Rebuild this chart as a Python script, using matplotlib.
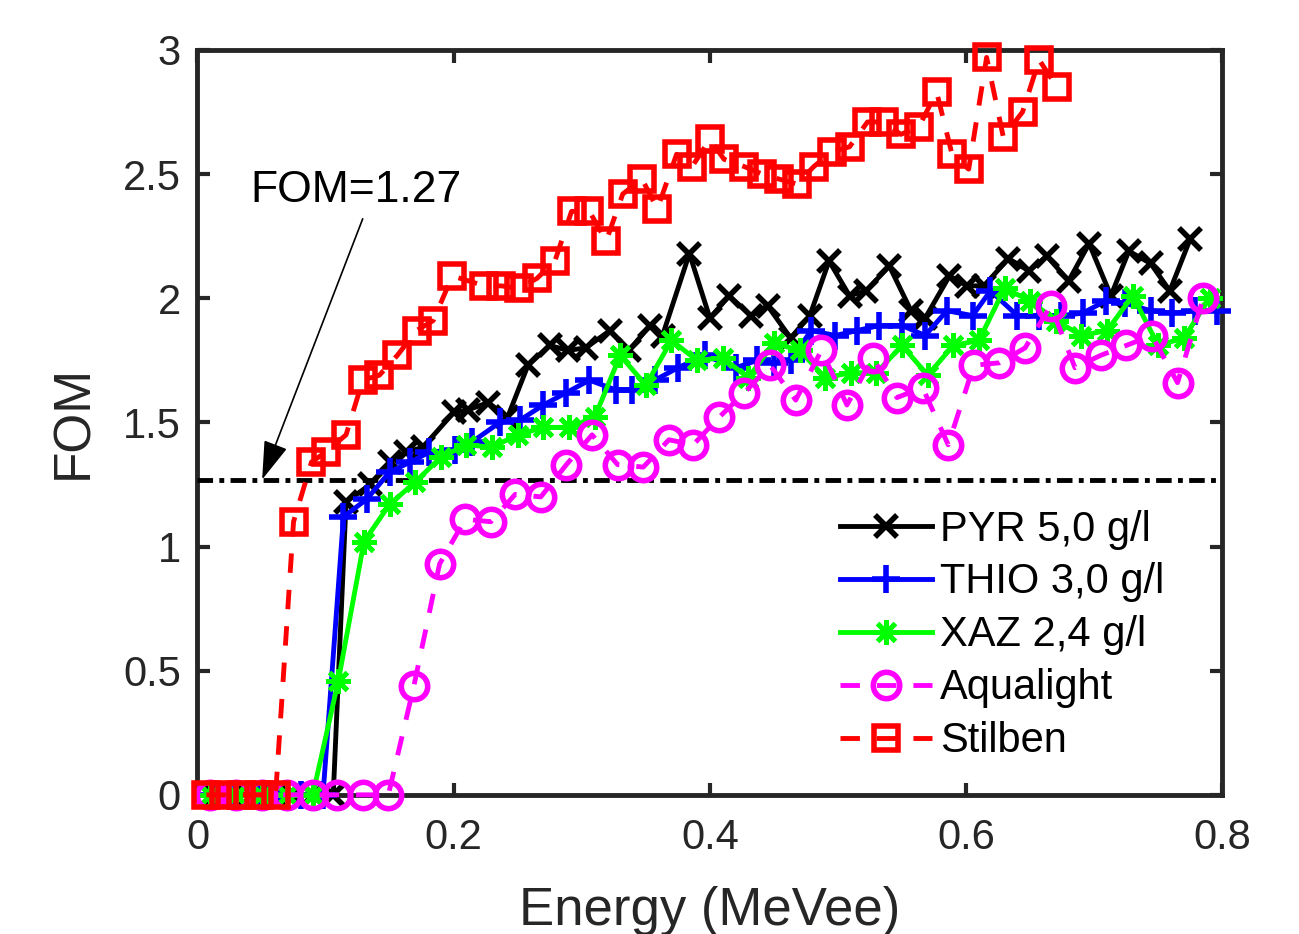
#!/usr/bin/env python3

"""
FOM versus energy for several scintillators (PSD quality comparison).
"""

import matplotlib
matplotlib.use("Agg")
import matplotlib.pyplot as plt

# Energy points (MeVee) and FOM values
pyr_energy = [0.012, 0.028, 0.043, 0.059, 0.075, 0.090, 0.106, 0.116, 0.135, 0.150,
              0.163, 0.176, 0.200, 0.211, 0.227, 0.242, 0.258, 0.275, 0.289, 0.303,
              0.322, 0.337, 0.353, 0.363, 0.384, 0.400, 0.415, 0.432, 0.445, 0.463,
              0.478, 0.493, 0.509, 0.522, 0.540, 0.557, 0.568, 0.587, 0.601, 0.614,
              0.633, 0.649, 0.663, 0.680, 0.696, 0.713, 0.727, 0.744, 0.759, 0.775]
pyr_fom = [0, 0, 0, 0, 0, 0, 0, 1.18, 1.25, 1.34,
           1.38, 1.40, 1.54, 1.55, 1.58, 1.52, 1.73, 1.81, 1.79, 1.80,
           1.87, 1.79, 1.89, 1.85, 2.18, 1.92, 2.01, 1.93, 1.97, 1.84,
           1.93, 2.15, 2.01, 2.03, 2.13, 1.95, 1.92, 2.09, 2.05, 2.05,
           2.16, 2.11, 2.17, 2.07, 2.22, 2.01, 2.19, 2.14, 2.03, 2.24]

thio_energy = [0.012, 0.029, 0.047, 0.064, 0.081, 0.098, 0.114, 0.132, 0.150, 0.166,
               0.181, 0.201, 0.214, 0.236, 0.252, 0.270, 0.288, 0.306, 0.327, 0.339,
               0.357, 0.375, 0.396, 0.420, 0.437, 0.450, 0.463, 0.479, 0.498, 0.515,
               0.532, 0.550, 0.568, 0.585, 0.605, 0.619, 0.640, 0.657, 0.674, 0.691,
               0.709, 0.724, 0.744, 0.761, 0.779, 0.796]
thio_fom = [0, 0, 0, 0, 0, 0, 1.12, 1.19, 1.30, 1.34,
            1.38, 1.39, 1.42, 1.50, 1.51, 1.57, 1.62, 1.67, 1.63, 1.63,
            1.67, 1.72, 1.77, 1.72, 1.75, 1.74, 1.75, 1.87, 1.85, 1.87,
            1.89, 1.89, 1.85, 1.95, 1.93, 2.03, 1.93, 1.93, 1.93, 1.94,
            1.99, 1.98, 1.95, 1.94, 1.95, 1.95]

xaz_energy = [0.01, 0.03, 0.05, 0.07, 0.09, 0.11, 0.13, 0.15, 0.17, 0.19,
              0.21, 0.23, 0.25, 0.27, 0.29, 0.31, 0.33, 0.35, 0.37, 0.39,
              0.41, 0.43, 0.45, 0.47, 0.49, 0.51, 0.53, 0.55, 0.57, 0.59,
              0.61, 0.63, 0.65, 0.67, 0.69, 0.71, 0.73, 0.75, 0.77, 0.79]
xaz_fom = [0, 0, 0, 0, 0, 0.46, 1.02, 1.17, 1.26, 1.36,
           1.41, 1.40, 1.45, 1.48, 1.48, 1.52, 1.77, 1.65, 1.83, 1.75,
           1.76, 1.68, 1.82, 1.79, 1.68, 1.70, 1.70, 1.81, 1.69, 1.81,
           1.83, 2.04, 1.99, 1.91, 1.85, 1.87, 2.01, 1.81, 1.84, 2.00]

aqua_energy = [0.010, 0.030, 0.050, 0.070, 0.090, 0.109, 0.129, 0.149, 0.169, 0.189,
               0.209, 0.229, 0.248, 0.268, 0.288, 0.308, 0.328, 0.348, 0.368, 0.387,
               0.407, 0.427, 0.447, 0.467, 0.487, 0.507, 0.527, 0.546, 0.566, 0.586,
               0.606, 0.626, 0.646, 0.666, 0.685, 0.705, 0.725, 0.745, 0.765, 0.785]
aqua_fom = [0, 0, 0, 0, 0, 0, 0, 0, 0.44, 0.93,
            1.11, 1.10, 1.21, 1.20, 1.33, 1.45, 1.33, 1.32, 1.43, 1.41,
            1.52, 1.62, 1.73, 1.59, 1.79, 1.57, 1.76, 1.60, 1.64, 1.41,
            1.73, 1.74, 1.80, 1.97, 1.72, 1.77, 1.81, 1.85, 1.66, 2.00]

stil_energy = [0.007, 0.021, 0.034, 0.048, 0.061, 0.075, 0.089, 0.100, 0.116, 0.129,
               0.142, 0.156, 0.171, 0.184, 0.199, 0.224, 0.237, 0.251, 0.265, 0.279,
               0.292, 0.306, 0.319, 0.332, 0.347, 0.359, 0.374, 0.386, 0.400, 0.411,
               0.427, 0.441, 0.454, 0.468, 0.481, 0.495, 0.509, 0.523, 0.536, 0.549,
               0.563, 0.577, 0.589, 0.602, 0.616, 0.629, 0.644, 0.657, 0.671]
stil_fom = [0, 0, 0, 0, 0, 1.10, 1.34, 1.38, 1.45, 1.67,
            1.69, 1.77, 1.87, 1.91, 2.09, 2.05, 2.05, 2.04, 2.08, 2.15,
            2.35, 2.35, 2.23, 2.42, 2.48, 2.36, 2.58, 2.53, 2.64, 2.56,
            2.53, 2.50, 2.48, 2.46, 2.53, 2.59, 2.61, 2.71, 2.71, 2.66,
            2.69, 2.83, 2.58, 2.52, 2.97, 2.65, 2.75, 2.96, 2.85]

FOM_LIMIT = 1.27
GRAY = '#262626'

plt.rcParams['font.family'] = ['Liberation Sans', 'DejaVu Sans']

fig = plt.figure(figsize=(12.99, 9.34), dpi=100)
ax = fig.add_axes([0.152, 0.149, 0.789, 0.7975])

# series in legend order (later ones are drawn on top)
common = dict(clip_on=False, zorder=3)
ax.plot(pyr_energy, pyr_fom, color='k', lw=3.5, marker='x', ms=16, mew=4,
        label='PYR 5,0 g/l', **common)
ax.plot(thio_energy, thio_fom, color='#0000ff', lw=3.5, marker='+', ms=20, mew=4,
        label='THIO 3,0 g/l', **common)
ax.plot(xaz_energy, xaz_fom, color='#00ff00', lw=3.5, marker=(8, 2, 0), ms=18, mew=3.5,
        label='XAZ 2,4 g/l', **common)
ax.plot(aqua_energy, aqua_fom, color='#ff00ff', lw=3.5, ls=(0, (4, 3.5)), marker='o',
        ms=19, mew=4, mfc='none', label='Aqualight', **common)
ax.plot(stil_energy, stil_fom, color='#ff0000', lw=3.5, ls=(0, (4, 3.5)), marker='s',
        ms=17, mew=4, mfc='none', label='Stilben', **common)

# FOM threshold line
ax.plot([0, 0.8], [FOM_LIMIT, FOM_LIMIT], color='k', lw=3.5,
        ls=(0, (3.2, 1.3, 1.0, 1.3)), zorder=2.6)

ax.text(0.124, 2.435, 'FOM=1.27', fontsize=32, ha='center', va='center', color='k')
ax.annotate('', xy=(0.0505, FOM_LIMIT), xytext=(0.129, 2.32),
            arrowprops=dict(arrowstyle='-|>,head_length=1.1,head_width=0.35',
                            lw=1.2, color='k', mutation_scale=22, shrinkA=0, shrinkB=0))

ax.set_xlim(0, 0.8)
ax.set_ylim(0, 3)
ax.set_xticks([0, 0.2, 0.4, 0.6, 0.8])
ax.set_xticklabels(['0', '0.2', '0.4', '0.6', '0.8'])
ax.set_yticks([0, 0.5, 1, 1.5, 2, 2.5, 3])
ax.set_yticklabels(['0', '0.5', '1', '1.5', '2', '2.5', '3'])

ax.tick_params(direction='in', length=9, width=3, top=True, right=True,
               labelsize=30, colors=GRAY, labelcolor=GRAY)
ax.tick_params(axis='x', pad=17)
ax.tick_params(axis='y', pad=12)
for spine in ax.spines.values():
    spine.set_linewidth(3.5)
    spine.set_color(GRAY)

ax.set_xlabel('Energy (MeVee)', fontsize=38, color=GRAY, labelpad=20)
ax.set_ylabel('FOM', fontsize=37, color=GRAY, labelpad=18)

leg = ax.legend(loc='upper left', bbox_to_anchor=(0.627, 0.383), frameon=False,
                fontsize=30, handlelength=2.2, handletextpad=0.2, labelspacing=0.31,
                borderpad=0, borderaxespad=0, numpoints=1)

fig.savefig('out.png', dpi=100)
